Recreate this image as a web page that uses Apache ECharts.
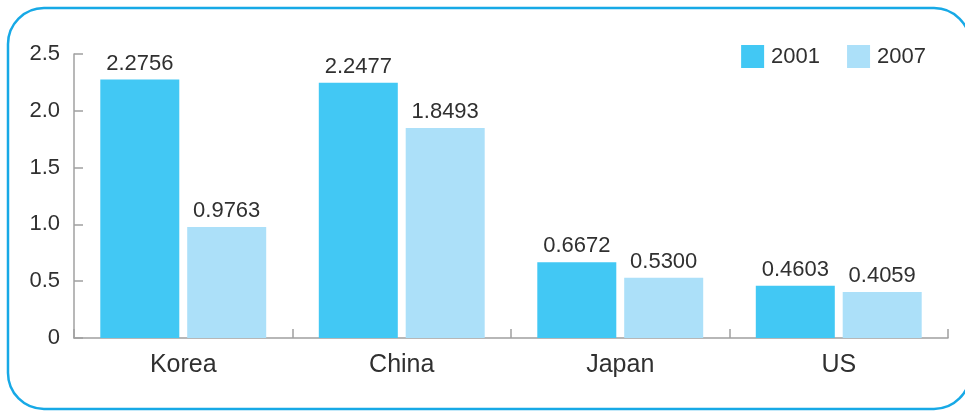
<!DOCTYPE html>
<html>
<head>
<meta charset="utf-8">
<script src="https://cdn.jsdelivr.net/npm/echarts@6/dist/echarts.min.js"></script>
<style>
  html, body { margin: 0; padding: 0; background: #ffffff; }
  #chart { width: 965px; height: 411px; }
</style>
</head>
<body>
<div id="chart"></div>
<script>
// Categories and the two survey years
const categories = ['Korea', 'China', 'Japan', 'US'];
const values2001 = [2.2756, 2.2477, 0.6672, 0.4603];
const values2007 = [0.9763, 1.8493, 0.5300, 0.4059];
const seriesNames = ['2001', '2007'];

const FONT = "'Liberation Sans', Arial, sans-serif";
const TEXT = '#303030';
const AXIS = '#a0a0a0';

const chart = echarts.init(document.getElementById('chart'), null, { renderer: 'canvas' });

chart.setOption({
  animation: false,
  backgroundColor: '#ffffff',
  graphic: [{
    type: 'rect',
    z: -10,
    shape: { x: 8, y: 8, width: 962, height: 401, r: 36 },
    style: { fill: 'none', stroke: '#17a9e6', lineWidth: 2.5 }
  }],
  legend: {
    right: 34,
    top: 40,
    itemWidth: 23,
    itemHeight: 23,
    itemGap: 27,
    icon: 'rect',
    data: seriesNames,
    textStyle: { fontFamily: FONT, fontSize: 22, color: TEXT, padding: [0, 0, 0, 2] }
  },
  grid: { left: 74, right: 17, top: 54, bottom: 73 },
  xAxis: {
    type: 'category',
    data: categories,
    axisLine: { lineStyle: { color: AXIS, width: 1.5 } },
    axisTick: { show: true, inside: true, length: 9, lineStyle: { color: AXIS, width: 1.5 } },
    axisLabel: { fontFamily: FONT, fontSize: 25, color: TEXT, margin: 15 }
  },
  yAxis: {
    type: 'value',
    min: 0,
    max: 2.5,
    interval: 0.5,
    splitLine: { show: false },
    axisLine: { show: true, lineStyle: { color: AXIS, width: 1.5 } },
    axisTick: { show: true, inside: true, length: 9, lineStyle: { color: AXIS, width: 1.5 } },
    axisLabel: {
      fontFamily: FONT, fontSize: 22, color: TEXT, margin: 14,
      padding: [6, 0, 0, 0],
      formatter: v => (v === 0 ? '0' : v.toFixed(1))
    }
  },
  series: [
    {
      name: seriesNames[0],
      type: 'bar',
      data: values2001,
      barWidth: 79,
      barGap: '10%',
      itemStyle: { color: '#42c8f4' },
      label: {
        show: true, position: 'top', distance: 5,
        fontFamily: FONT, fontSize: 22, color: TEXT,
        formatter: p => p.value.toFixed(4)
      }
    },
    {
      name: seriesNames[1],
      type: 'bar',
      data: values2007,
      barWidth: 79,
      barGap: '10%',
      itemStyle: { color: '#ace0f9' },
      label: {
        show: true, position: 'top', distance: 5,
        fontFamily: FONT, fontSize: 22, color: TEXT,
        formatter: p => p.value.toFixed(4)
      }
    }
  ]
});
</script>
</body>
</html>
